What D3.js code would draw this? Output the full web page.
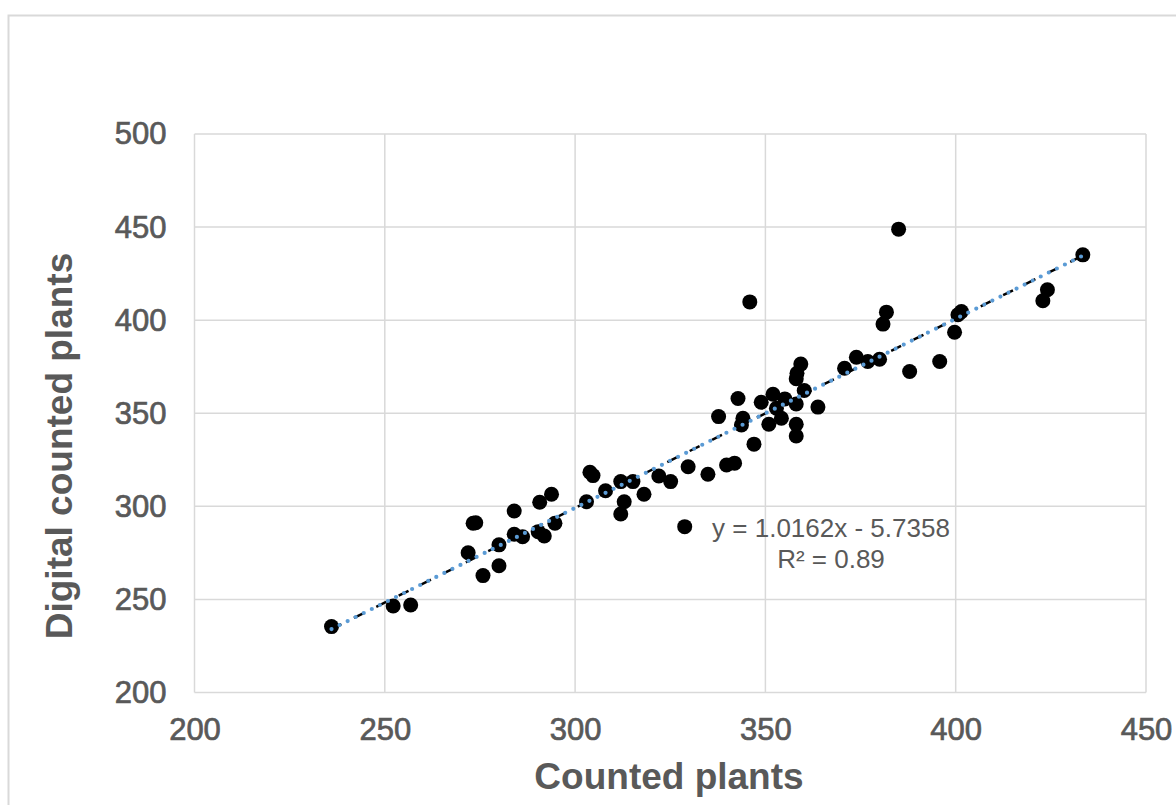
<!DOCTYPE html>
<html>
<head>
<meta charset="utf-8">
<script src="https://cdn.jsdelivr.net/npm/d3@7/dist/d3.min.js"></script>
<style>
  html, body { margin: 0; padding: 0; background: #fff; }
  svg { display: block; }
</style>
</head>
<body>
<svg id="chart" width="1176" height="805"></svg>
<script>
// ---- Data ----
const countedPlants = [
  236.0, 252.2, 256.8, 271.9, 273.2, 273.9, 275.8, 280.0, 280.0, 284.0,
  284.0, 286.2, 290.7, 293.8, 290.3, 291.9, 294.7, 303.0, 303.9, 304.7,
  308.0, 312.0, 312.0, 312.9, 315.2, 318.1, 322.0, 325.1, 328.8, 329.7,
  334.9, 337.7, 339.8, 341.9, 342.8, 344.1, 343.7, 345.9, 347.0, 348.9,
  350.9, 352.0, 352.9, 354.2, 355.1, 358.1, 358.1, 358.1, 358.1, 358.3,
  359.3, 360.2, 363.8, 370.8, 373.9, 376.9, 380.0, 380.9, 381.8, 385.0,
  387.9, 395.8, 399.7, 400.6, 401.5, 422.9, 424.1, 433.4
];
const digitalCountedPlants = [
  235.4, 246.5, 247.0, 275.1, 290.9, 291.2, 262.8, 268.1, 279.3, 297.5,
  285.0, 283.7, 302.2, 306.5, 286.4, 284.1, 290.9, 302.5, 318.3, 316.5,
  308.4, 313.3, 295.9, 302.5, 313.3, 306.5, 316.3, 313.3, 289.1, 321.3,
  317.2, 348.2, 322.2, 323.2, 357.9, 347.3, 343.7, 409.8, 333.4, 355.9,
  344.1, 360.2, 352.7, 347.3, 357.7, 344.1, 337.8, 355.0, 368.5, 371.5,
  376.4, 362.2, 353.3, 374.2, 380.1, 377.8, 379.0, 397.9, 404.3, 448.9,
  372.4, 377.8, 393.5, 402.9, 404.6, 410.4, 416.3, 435.1
];
const xTicks = [200, 250, 300, 350, 400, 450];
const yTicks = [200, 250, 300, 350, 400, 450, 500];
const trendSlope = 1.0162;
const trendIntercept = -5.7358;
const equationText = "y = 1.0162x - 5.7358";
const r2Text = "R² = 0.89";
const xTitle = "Counted plants";
const yTitle = "Digital counted plants";

// ---- Layout ----
const svg = d3.select("#chart");
const plot = { left: 194.5, right: 1146, top: 134, bottom: 692.5 };
const gridColor = "#d9d9d9";
const textColor = "#595959";
const font = "'Liberation Sans', Arial, sans-serif";

svg.append("rect").attr("width", 1176).attr("height", 805).attr("fill", "#fff");
// outer chart border
svg.append("rect")
  .attr("x", 8.5).attr("y", 15.5).attr("width", 1200).attr("height", 900)
  .attr("fill", "none").attr("stroke", gridColor).attr("stroke-width", 2);

const x = d3.scaleLinear().domain([200, 450]).range([plot.left, plot.right]);
const y = d3.scaleLinear().domain([200, 500]).range([plot.bottom, plot.top]);

// gridlines
const grid = svg.append("g");
grid.selectAll("line.v").data(xTicks).join("line")
  .attr("x1", d => x(d)).attr("x2", d => x(d))
  .attr("y1", plot.top).attr("y2", plot.bottom)
  .attr("stroke", gridColor).attr("stroke-width", 1.5);
grid.selectAll("line.h").data(yTicks).join("line")
  .attr("y1", d => y(d)).attr("y2", d => y(d))
  .attr("x1", plot.left).attr("x2", plot.right)
  .attr("stroke", gridColor).attr("stroke-width", 1.5);

// axes
const xAxis = svg.append("g")
  .attr("transform", `translate(0,${plot.bottom})`)
  .call(d3.axisBottom(x).tickValues(xTicks).tickSize(0).tickPadding(25).tickFormat(d3.format("d")));
const yAxis = svg.append("g")
  .attr("transform", `translate(${plot.left},0)`)
  .call(d3.axisLeft(y).tickValues(yTicks).tickSize(0).tickPadding(28).tickFormat(d3.format("d")));
[xAxis, yAxis].forEach(a => {
  a.select(".domain").remove();
  a.selectAll("text")
    .attr("fill", textColor)
    .attr("stroke", textColor)
    .attr("stroke-width", 0.7)
    .style("font-family", font)
    .style("font-size", "31px");
});

// points
const pts = countedPlants.map((v, i) => ({ x: v, y: digitalCountedPlants[i] }));
svg.append("g").selectAll("circle").data(pts).join("circle")
  .attr("cx", d => x(d.x)).attr("cy", d => y(d.y))
  .attr("r", 7.5).attr("fill", "#000");

// trendline (linear fit), drawn over the data range
const xMin = d3.min(countedPlants), xMax = d3.max(countedPlants);
const trend = [xMin, xMax].map(v => ({ x: v, y: trendSlope * v + trendIntercept }));
const line = d3.line().x(d => x(d.x)).y(d => y(d.y));
svg.append("path").datum(trend).attr("d", line)
  .attr("fill", "none").attr("stroke", "#000").attr("stroke-width", 2.5)
  .attr("stroke-dasharray", "11,14");
svg.append("path").datum(trend).attr("d", line)
  .attr("fill", "none").attr("stroke", "#5b9bd5").attr("stroke-width", 4.2)
  .attr("stroke-linecap", "round").attr("stroke-dasharray", "0,9");

// equation label
const eq = svg.append("text")
  .attr("x", 831).attr("y", 537)
  .attr("text-anchor", "middle")
  .attr("fill", textColor)
  .style("font-family", font)
  .style("font-size", "26px");
eq.append("tspan").attr("x", 831).attr("y", 537).text(equationText);
eq.append("tspan").attr("x", 831).attr("y", 568).text(r2Text);

// axis titles
svg.append("text")
  .attr("x", 669).attr("y", 789)
  .attr("text-anchor", "middle")
  .attr("fill", textColor)
  .style("font-family", font).style("font-size", "37px").style("font-weight", "bold")
  .text(xTitle);
svg.append("text")
  .attr("transform", "translate(72,446) rotate(-90)")
  .attr("text-anchor", "middle")
  .attr("fill", textColor)
  .style("font-family", font).style("font-size", "37px").style("font-weight", "bold")
  .text(yTitle);
</script>
</body>
</html>
